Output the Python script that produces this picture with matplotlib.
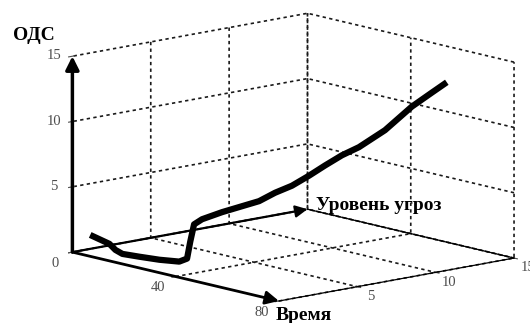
import numpy as np
import matplotlib
matplotlib.use('Agg')
import matplotlib.pyplot as plt
from matplotlib.patches import FancyArrowPatch
from mpl_toolkits.mplot3d import proj3d

# данные кривой (время, уровень угроз, ОДС)
time = [3.8, 7.9, 9.2, 10.7, 14.3, 18.6, 22.8, 24.5, 25.2, 26.0, 27.7, 32.0,
        39.9, 43.3, 46.9, 50.6, 54.0, 57.6, 61.2, 66.8, 72.5, 76.8, 80.0]
threat = [0.51, 1.06, 1.23, 1.43, 1.91, 2.49, 3.06, 3.28, 3.37, 3.48, 3.71, 4.28,
          5.34, 5.80, 6.28, 6.77, 7.23, 7.71, 8.20, 8.94, 9.71, 10.28, 10.71]
ods = [1.38, 0.77, 0.33, 0.05, -0.1, -0.26, -0.33, -0.07, 1.25, 2.58, 3.0, 3.62,
       4.6, 5.3, 5.9, 6.74, 7.58, 8.42, 9.1, 10.5, 12.4, 13.55, 14.4]

time_ticks = [0, 40, 80]
threat_ticks = [5, 10, 15]
ods_ticks = [0, 5, 10, 15]
ods_labels = ['', '5', '10', '15']

plt.rcParams['font.family'] = ['Liberation Serif', 'DejaVu Serif']
plt.rcParams['grid.color'] = '0.1'
plt.rcParams['grid.linestyle'] = (0, (2, 2))
plt.rcParams['grid.linewidth'] = 1.2


class Arrow3D(FancyArrowPatch):
    def __init__(self, xs, ys, zs, *args, **kwargs):
        super().__init__((0, 0), (0, 0), *args, **kwargs)
        self._verts3d = xs, ys, zs

    def do_3d_projection(self, renderer=None):
        xs3d, ys3d, zs3d = self._verts3d
        xs, ys, zs = proj3d.proj_transform(xs3d, ys3d, zs3d, self.axes.M)
        self.set_positions((xs[0], ys[0]), (xs[1], ys[1]))
        return np.min(zs)


fig = plt.figure(figsize=(5.3, 3.23), dpi=100)
ax = fig.add_axes([0.045, 0, 1, 1], projection='3d')
ax.set_proj_type('ortho')
ax.view_init(elev=12, azim=-41.3)
ax.set_box_aspect((1, 1, 0.64), zoom=1.46)

ax.set_xlim(0, 80)
ax.set_ylim(0, 15)
ax.set_zlim(0, 15)
ax.set_xticks(time_ticks)
ax.set_yticks(threat_ticks)
ax.set_zticks(ods_ticks)
ax.set_zticklabels(ods_labels)
ax.zaxis.set_ticks_position('lower')

for axis in (ax.xaxis, ax.yaxis, ax.zaxis):
    axis.pane.fill = False
    axis.pane.set_edgecolor('none')
    axis.line.set_color('none')
    axis.set_tick_params(labelsize=10.5, colors='0.3')
ax.xaxis.set_tick_params(pad=1)
ax.yaxis.set_tick_params(pad=0)
ax.zaxis.set_tick_params(pad=-3)
for t in ax.xaxis.get_major_ticks() + ax.yaxis.get_major_ticks():
    t.label1.set_va('bottom')
for t in ax.zaxis.get_major_ticks():
    t.label1.set_va('center')

# сплошные рёбра пола
ax.plot([80, 80], [0, 15], [0, 0], color='k', lw=0.9, clip_on=False)
ax.plot([0, 80], [15, 15], [0, 0], color='k', lw=0.9, clip_on=False)

# оси-стрелки
for xs, ys, zs, lw, ms in [([0, 0], [0, 0], [0, 15], 2.5, 20),
                           ([0, 80], [0, 0], [0, 0], 2.0, 20),
                           ([0, 0], [0, 15], [0, 0], 1.6, 18)]:
    ax.add_artist(Arrow3D(xs, ys, zs, arrowstyle='-|>', mutation_scale=ms,
                          lw=lw, color='k', shrinkA=0, shrinkB=0, clip_on=False))

ax.plot(time, threat, ods, color='k', lw=4.5, solid_capstyle='butt', clip_on=False)

fig.text(34 / 530, 1 - 36 / 323, 'ОДС', ha='center', va='center',
         fontsize=14, fontweight='bold')
fig.text(276 / 530, 1 - 316 / 323, 'Время', ha='left', va='center',
         fontsize=14, fontweight='bold')
fig.text(316 / 530, 1 - 206 / 323, 'Уровень угроз', ha='left', va='center',
         fontsize=14, fontweight='bold')

fig.savefig('out.png', dpi=100)
